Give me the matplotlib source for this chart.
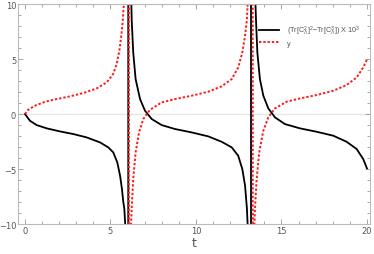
import numpy as np
import matplotlib
matplotlib.use("Agg")
import matplotlib.pyplot as plt
from matplotlib.ticker import MultipleLocator

plt.rcParams['mathtext.fontset'] = 'custom'
plt.rcParams['mathtext.rm'] = 'Liberation Sans'
plt.rcParams['mathtext.it'] = 'Liberation Sans:italic'

# black curve: (Tr[C^2]^2 - Tr[C^3]) x 10^3
# (the +-60 pairs are the jumps across the poles, drawn as vertical lines)
t_black = [0.0, 0.29, 0.68, 1.27, 2.05, 2.83, 3.6, 4.39, 4.87, 5.16, 5.4, 5.56, 5.67, 5.75, 5.81, 5.86,
           6.04, 6.04,
           6.22, 6.24, 6.33, 6.47, 6.73, 7.02, 7.41, 7.99, 8.77, 9.75, 10.72, 11.5, 12.09, 12.47, 12.71,
           12.87, 12.98, 13.02,
           13.22, 13.22,
           13.48, 13.51, 13.59, 13.74, 13.94, 14.23, 14.62, 15.2, 16.08, 17.06, 18.03, 18.81, 19.4,
           19.78, 20.0]
y_black = [0.0, -0.61, -1.0, -1.3, -1.58, -1.82, -2.12, -2.58, -3.03, -3.48, -4.4, -5.6, -6.8, -8.0, -8.6, -10.0,
           -60, 60,
           10.0, 8.6, 5.6, 3.18, 1.36, 0.3, -0.45, -1.0, -1.36, -1.67, -2.03, -2.52, -3.03, -3.79, -5.0,
           -6.5, -8.6, -10.0,
           -60, 60,
           10.0, 8.6, 5.6, 3.18, 1.67, 0.52, -0.3, -0.91, -1.3, -1.61, -1.97, -2.52, -3.18,
           -4.09, -4.94]

# red dotted curve: y
t_red = [0.0, 0.19, 0.58, 1.17, 1.85, 2.63, 3.41, 4.19, 4.78, 5.16, 5.36, 5.52, 5.63, 5.71, 5.78,
         6.08, 6.08,
         6.2, 6.24, 6.33, 6.47, 6.67, 6.92, 7.31, 7.99, 8.77, 9.75, 10.72, 11.5, 12.09, 12.47, 12.71,
         12.87, 12.98, 13.02,
         13.32, 13.32,
         13.42, 13.45, 13.55, 13.7, 13.94, 14.23, 14.62, 15.3, 16.08, 17.06, 18.03, 18.81, 19.4,
         19.78, 20.0]
y_red = [0.0, 0.39, 0.76, 1.12, 1.36, 1.61, 1.91, 2.33, 2.88, 3.64, 4.55, 5.76, 7.1, 8.3, 10.0,
         60, -60,
         -10.0, -8.6, -5.9, -3.48, -1.67, -0.45, 0.39, 1.06, 1.36, 1.67, 2.03, 2.52, 3.18, 4.24, 5.6,
         7.1, 8.6, 10.0,
         60, -60,
         -10.0, -8.6, -5.9, -3.48, -1.52, -0.3, 0.52, 1.12, 1.42, 1.73, 2.12, 2.64, 3.33,
         4.24, 4.94]

label_black = r'(Tr[$\mathrm{C}_\Lambda^2$]$^2$$-$Tr[$\mathrm{C}_\Lambda^3$]) X 10$^3$'
label_red = 'y'

gray = '#999999'
txt = '#555555'

fig = plt.figure(figsize=(3.74, 2.55), dpi=100)
ax = fig.add_axes([0.049, 0.1176, 0.939, 0.8624])

ax.axhline(0, color='#e6e6e6', lw=1.0, zorder=0)
ax.plot(t_black, y_black, color='black', lw=1.3, label=label_black)
ax.plot(t_red, y_red, color='#ff1a1a', lw=1.4, ls=(0, (1.2, 1.0)), label=label_red)

ax.set_xlim(-0.39, 20.15)
ax.set_ylim(-10, 10)
ax.xaxis.set_major_locator(MultipleLocator(5))
ax.xaxis.set_minor_locator(MultipleLocator(1))
ax.yaxis.set_major_locator(MultipleLocator(5))
ax.yaxis.set_minor_locator(MultipleLocator(1))
ax.tick_params(which='both', direction='in', colors=gray, labelcolor=txt, labelsize=6,
               top=True, right=True, width=0.6)
ax.tick_params(which='major', length=3.5, pad=1.5)
ax.tick_params(which='minor', length=2)
for s in ax.spines.values():
    s.set_color('#bbbbbb')
    s.set_linewidth(0.8)

ax.set_xlabel('t', color=txt, fontsize=9, labelpad=1)

ax.legend(loc='upper right', bbox_to_anchor=(0.986, 0.93), frameon=False,
          prop={'family': 'Liberation Sans', 'size': 5.2},
          handlelength=2.8, handletextpad=1.1, labelcolor=txt, borderaxespad=0.2,
          labelspacing=0.35)

fig.savefig('out.png', dpi=100)
